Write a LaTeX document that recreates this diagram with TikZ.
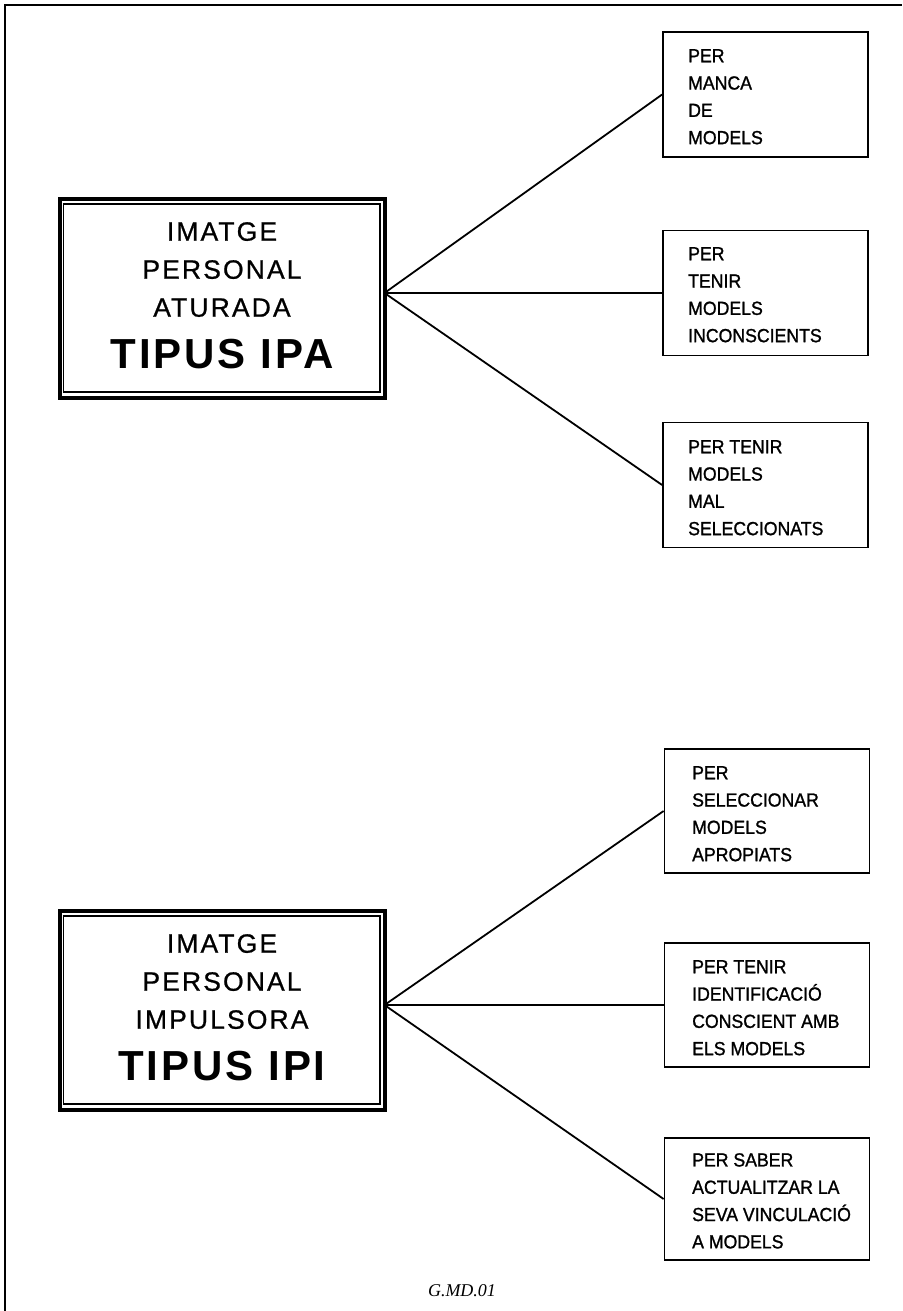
\documentclass[tikz,border=0pt]{standalone}
\usepackage{fontspec}
\setmainfont{Liberation Sans}
\newfontfamily\rfont[FakeStretch=0.93,FakeBold=1.2]{Liberation Sans}
\newfontfamily\tfont[LetterSpace=8,FakeBold=0.8]{Liberation Sans}
\newfontfamily\bfont[LetterSpace=7]{Liberation Sans}
\newfontfamily\cfont{Liberation Serif}
\tikzset{
  frameline/.style={line width=1.5pt},
  rbox/.style={draw, line width=1.8pt, minimum width=205pt, inner sep=0pt},
  rtext/.style={anchor=north west, inner sep=0pt, align=left, font=\rfont\fontsize{19}{27.3}\selectfont},
  link/.style={line width=1.8pt},
  mbox/.style={draw, line width=4pt, minimum width=325pt, minimum height=199pt, inner sep=0pt},
  minner/.style={line width=1.5pt},
  mtext/.style={anchor=north, inner sep=0pt, align=center, font=\tfont\fontsize{26.5}{38}\selectfont},
  mbold/.style={anchor=base, inner sep=0pt, font=\bfont\bfseries\fontsize{42}{44}\selectfont},
}
\begin{document}
\begin{tikzpicture}[x=1pt,y=-1pt]
\useasboundingbox (0,0) rectangle (902,1311);
\draw[frameline] (5,1311) -- (5,5) -- (902,5);

% ---- top group ----
\node[mbox] (ipa) at (222,298) {};
\draw[minner] ([shift={(6.2,7.5)}]ipa.north west) rectangle ([shift={(-6.5,-7.5)}]ipa.south east);
\node[mtext] (ipat) at (222,222) {IMATGE\\PERSONAL\\ATURADA};
\node[mbold] (ipab) at (222,368) {TIPUS IPA};

\node[rbox, minimum height=125pt] (a1) at (765.5,94.5) {};
\node[rtext] (a1t) at (688,49) {PER\\MANCA\\DE\\MODELS};
\node[rbox, minimum height=125pt] (a2) at (765.5,293) {};
\node[rtext] (a2t) at (688,247) {PER\\TENIR\\MODELS\\INCONSCIENTS};
\node[rbox, minimum height=125pt] (a3) at (765.5,485) {};
\node[rtext] (a3t) at (688,440) {PER TENIR\\MODELS\\MAL\\SELECCIONATS};

\coordinate (jA) at (384.5,293);
\draw[link] (jA) -- (a1.west);
\draw[link] (jA) -- (a2.west);
\draw[link] (jA) -- (a3.west);

% ---- bottom group ----
\node[mbox] (ipi) at (222,1010) {};
\draw[minner] ([shift={(6.2,7.5)}]ipi.north west) rectangle ([shift={(-6.5,-7.5)}]ipi.south east);
\node[mtext] (ipit) at (222,934) {IMATGE\\PERSONAL\\IMPULSORA};
\node[mbold] (ipib) at (222,1080) {TIPUS IPI};

\node[rbox, minimum height=124pt] (b1) at (767,811) {};
\node[rtext] (b1t) at (692,766) {PER\\SELECCIONAR\\MODELS\\APROPIATS};
\node[rbox, minimum height=124pt] (b2) at (767,1005) {};
\node[rtext] (b2t) at (692,960) {PER TENIR\\IDENTIFICACIÓ\\CONSCIENT AMB\\ELS MODELS};
\node[rbox, minimum height=122pt] (b3) at (767,1199) {};
\node[rtext] (b3t) at (692,1153) {PER SABER\\ACTUALITZAR LA\\SEVA VINCULACIÓ\\A MODELS};

\coordinate (jB) at (384.5,1005);
\draw[link] (jB) -- (b1.west);
\draw[link] (jB) -- (b2.west);
\draw[link] (jB) -- (b3.west);

\node[anchor=base, inner sep=0pt, font=\cfont\itshape\fontsize{18}{20}\selectfont] (cap) at (462,1296) {G.MD.01};
\end{tikzpicture}
\end{document}
